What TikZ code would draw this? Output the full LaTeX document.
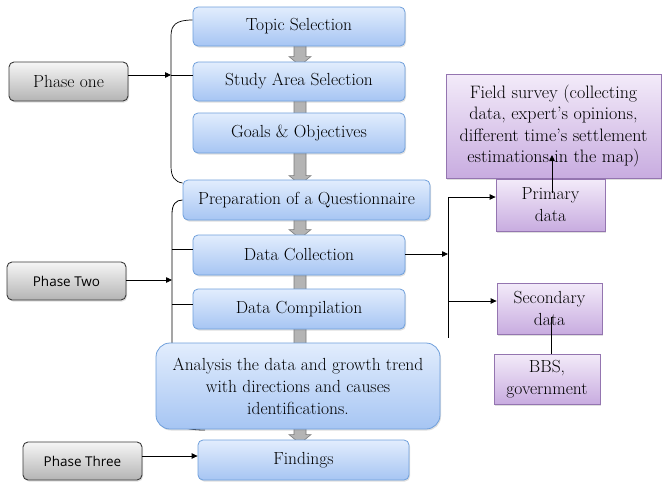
\documentclass[tikz,border=0pt]{standalone}
\usepackage{fontspec}
\newfontfamily\phasesans{Open Sans}
\usetikzlibrary{shadows,arrows.meta,calc,backgrounds}
\definecolor{btop}{HTML}{E2EDFD}
\definecolor{bbot}{HTML}{A6C5F3}
\definecolor{bline}{HTML}{6F9FDB}
\definecolor{gtop}{HTML}{F6F6F6}
\definecolor{gbot}{HTML}{B4B4B4}
\definecolor{gline}{HTML}{3A3A3A}
\definecolor{ptop}{HTML}{F3EBF9}
\definecolor{pbot}{HTML}{C8ACE0}
\definecolor{pline}{HTML}{9475B0}
\definecolor{afill}{HTML}{B4B4B4}
\definecolor{aline}{HTML}{7A7A7A}
\newcommand\garrow[3]{%
 \path[garr] let \p1=(#1.south), \p2=(#2.north) in
 (294pt,\y1+2pt) -- (306pt,\y1+2pt) -- (306pt,\y2-#3pt+9pt) -- (311pt,\y2-#3pt+9pt)
 -- (300pt,\y2-#3pt) -- (289pt,\y2-#3pt+9pt) -- (294pt,\y2-#3pt+9pt) -- cycle;}
\begin{document}
\begin{tikzpicture}[x=1pt,y=-1pt,
  font=\rmfamily\fontsize{17.5}{22}\selectfont,
  shad/.style={drop shadow={shadow xshift=1pt,shadow yshift=-1.5pt,opacity=0.25}},
  bluebox/.style={draw=bline, line width=0.8pt, rounded corners=5pt, top color=btop, bottom color=bbot, inner sep=0pt, align=center, shad},
  graybox/.style={draw=gline, line width=0.9pt, rounded corners=5pt, top color=gtop, bottom color=gbot, inner sep=0pt, align=center, shad},
  purpbox/.style={draw=pline, line width=0.8pt, top color=ptop, bottom color=pbot, inner sep=0pt, align=center, shad},
  conn/.style={line width=0.8pt, black},
  arr/.style={conn, -{Triangle[length=6pt,width=5.5pt]}},
  garr/.style={fill=afill, draw=aline, line width=0.6pt}]
\useasboundingbox (0,0) rectangle (662,482);

% main column
\node[bluebox, minimum width=212pt, minimum height=39pt] (topic) at (299,26.5) {Topic Selection};
\node[bluebox, minimum width=212pt, minimum height=39pt] (study) at (299,81.5) {Study Area Selection};
\node[bluebox, minimum width=212pt, minimum height=40pt] (goals) at (299,133) {Goals \& Objectives};
\node[bluebox, minimum width=247pt, minimum height=40pt] (prep) at (306.5,200) {Preparation of a Questionnaire};
\node[bluebox, minimum width=212pt, minimum height=40pt] (dcoll) at (299,255) {Data Collection};
\node[bluebox, minimum width=212pt, minimum height=40pt] (dcomp) at (299,309) {Data Compilation};
\node[bluebox, rounded corners=14pt, minimum width=284pt, minimum height=86pt] (anal) at (298,386)
  {Analysis the data and growth trend\\with directions and causes\\identifications.};
\node[bluebox, minimum width=211pt, minimum height=40pt] (find) at (303.5,460) {Findings};

% phases
\node[graybox, minimum width=119pt, minimum height=39pt] (ph1) at (68.5,81.5) {Phase one};
\node[graybox, minimum width=119pt, minimum height=38pt, font=\phasesans\fontsize{13.5}{16}\selectfont] (ph2) at (66.5,281) {Phase Two};
\node[graybox, minimum width=119pt, minimum height=38pt, font=\phasesans\fontsize{13.5}{16}\selectfont] (ph3) at (82.5,461) {Phase Three};

% right side
\node[purpbox, minimum width=215pt, minimum height=104pt, font=\rmfamily\fontsize{18}{21.5}\selectfont] (field) at (553.5,126)
  {Field survey (collecting\\data, expert's opinions,\\different time's settlement\\estimations in the map)};
\node[purpbox, minimum width=109pt, minimum height=52pt] (prim) at (550.5,205) {Primary\\data};
\node[purpbox, minimum width=105pt, minimum height=51pt] (sec) at (549.5,308.5) {Secondary\\data};
\node[purpbox, minimum width=106pt, minimum height=50pt] (bbs) at (547,379) {BBS,\\government};

% background: brackets and block arrows
\begin{scope}[on background layer]
  \draw[conn, line width=0.7pt] (topic.west |- 0,20) .. controls (176,20) and (171,25) .. (171,36)
     -- (171,166) .. controls (171,177) and (175,182) .. (prep.west |- 0,183);
  \draw[conn] (prep.west) .. controls (176,200) and (172,204) .. (172,214)
     -- (172,418) .. controls (172,426) and (186,430) .. (205,430);
  \garrow{topic}{study}{4}
  \garrow{study}{goals}{12}
  \garrow{goals}{prep}{5}
  \garrow{prep}{dcoll}{4}
  \garrow{dcoll}{dcomp}{12}
  \garrow{dcomp}{anal}{12}
  \garrow{anal}{find}{4}
\end{scope}

% phase connectors
\coordinate (b1) at (171,75);
\draw[arr] (ph1.east |- b1) -- (b1);
\draw[conn] (b1) -- (study.west |- b1);
\coordinate (b2) at (172,280);
\draw[arr] (ph2.east |- b2) -- (b2);
\coordinate (c1) at (172,249);
\coordinate (c2) at (172,304);
\draw[conn] (c1) -- (dcoll.west |- c1);
\draw[conn] (c2) -- (dcomp.west |- c2);
\coordinate (b3) at (0,456);
\draw[arr] (ph3.east |- b3) -- (find.west |- b3);

% right connectors
\coordinate (r0) at (448,254);
\coordinate (r1) at (448,197);
\coordinate (r2) at (448,338);
\coordinate (r3) at (448,301);
\draw[arr] (dcoll.east |- r0) -- (r0);
\draw[conn] (r1) -- (r2);
\draw[arr] (r1) -- (prim.west |- r1);
\draw[arr] (r3) -- (sec.west |- r3);
\coordinate (u0) at (552,193);
\coordinate (u1) at (552,155);
\draw[arr] (u0) -- (u1);
\coordinate (v1) at (551,317);
\draw[conn] (bbs.north -| v1) -- (v1);
\end{tikzpicture}
\end{document}
